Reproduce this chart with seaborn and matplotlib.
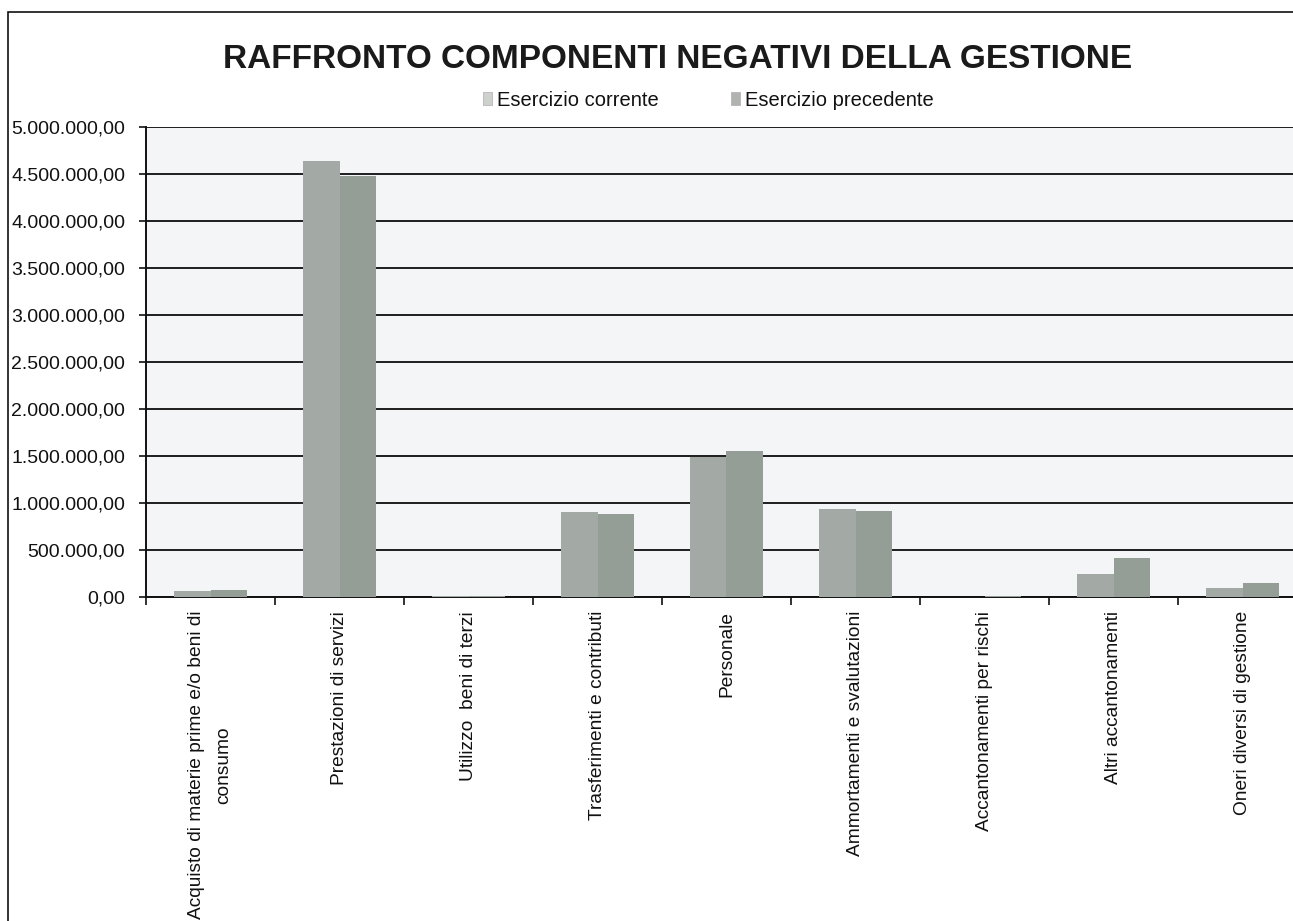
import numpy as np
import pandas as pd
import seaborn as sns
import matplotlib
matplotlib.use("Agg")
import matplotlib.pyplot as plt
from matplotlib.ticker import FuncFormatter, FixedLocator
from matplotlib.patches import Rectangle, Patch

categorie = [
    "Acquisto di materie prime e/o beni di\nconsumo",
    "Prestazioni di servizi",
    "Utilizzo  beni di terzi",
    "Trasferimenti e contributi",
    "Personale",
    "Ammortamenti e svalutazioni",
    "Accantonamenti per rischi",
    "Altri accantonamenti",
    "Oneri diversi di gestione",
]
esercizio_corrente = [68000, 4640000, 8000, 900000, 1490000, 940000, 4000, 250000, 100000]
esercizio_precedente = [72000, 4475000, 10000, 880000, 1555000, 910000, 7000, 420000, 145000]
serie = ["Esercizio corrente", "Esercizio precedente"]
colori = ["#a3aaa5", "#959d97"]
yticks = [0, 500000, 1000000, 1500000, 2000000, 2500000, 3000000, 3500000, 4000000, 4500000, 5000000]

df = pd.DataFrame({
    "Voce": categorie * 2,
    "Serie": [serie[0]] * len(categorie) + [serie[1]] * len(categorie),
    "Importo": esercizio_corrente + esercizio_precedente,
})

sns.set_theme(style="white")
plt.rcParams["font.family"] = ["Liberation Sans", "DejaVu Sans"]

W, H = 1293, 921
fig = plt.figure(figsize=(W / 100, H / 100), dpi=100)
fig.patch.set_facecolor("white")
ax = fig.add_axes([146 / W, 1 - 597 / H, 1161 / W, (597 - 127) / H])
ax.set_facecolor("#f4f5f6")

sns.barplot(data=df, x="Voce", y="Importo", hue="Serie", order=categorie,
            hue_order=serie, palette=colori, width=0.56, gap=0,
            saturation=1, edgecolor="none", linewidth=0, legend=False, ax=ax,
            zorder=3)

ax.set_xlim(-0.5, len(categorie) - 0.5)
ax.set_ylim(0, 5000000)
ax.yaxis.set_major_locator(FixedLocator(yticks))


def formato_it(v, pos=None):
    s = f"{v:,.2f}"
    return s.replace(",", "X").replace(".", ",").replace("X", ".")


ax.yaxis.set_major_formatter(FuncFormatter(formato_it))
ax.grid(axis="y", color="#1e1e1e", linewidth=1.4, zorder=1)
ax.set_axisbelow(True)
for s in ["top", "right"]:
    ax.spines[s].set_visible(False)
for s in ["left", "bottom"]:
    ax.spines[s].set_color("#111111")
    ax.spines[s].set_linewidth(1.4)

ax.set_xlabel("")
ax.set_ylabel("")
ax.tick_params(axis="y", which="major", left=True, length=5, width=1.2,
               color="#111111", pad=10, labelsize=14, labelcolor="#111111")
ax.tick_params(axis="x", which="major", bottom=False, length=0, pad=10,
               labelsize=13.8, labelcolor="#111111")
ax.set_xticks(np.arange(len(categorie)))
ax.set_xticklabels(categorie, rotation=90, ha="center", va="top",
                   multialignment="center", linespacing=1.8)
ax.set_xticks(np.arange(len(categorie)) - 0.5, minor=True)
ax.tick_params(axis="x", which="minor", bottom=True, length=6, width=1.2,
               color="#111111")

fig.text(0.524, 1 - 60 / H, "RAFFRONTO COMPONENTI NEGATIVI DELLA GESTIONE",
         ha="center", va="center", fontsize=24, fontweight="bold",
         color="#1a1a1a")

handles = [Patch(facecolor=c, edgecolor="#b5b5b5", linewidth=0.6) for c in ["#cfd1cf", "#b0b3b0"]]
fig.legend(handles, serie, loc="center", bbox_to_anchor=(0.548, 1 - 100 / H),
           ncol=2, frameon=False, fontsize=14.5, handlelength=0.45,
           handleheight=0.6, handletextpad=0.25, columnspacing=3.6,
           labelcolor="#111111")

fig.add_artist(Rectangle((8 / W, -0.05), 1.2, 1 - 12 / H + 0.05,
                         transform=fig.transFigure, fill=False,
                         edgecolor="#111111", linewidth=1.2))

fig.savefig("out.png", dpi=100, facecolor="white")
